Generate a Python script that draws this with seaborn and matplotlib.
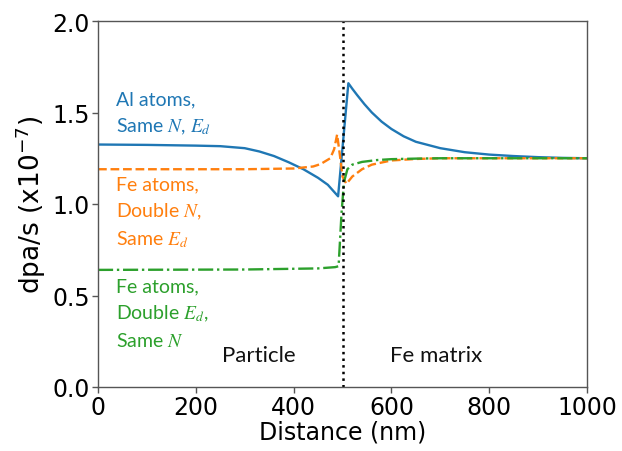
import matplotlib
matplotlib.use("Agg")
import matplotlib.pyplot as plt
import seaborn as sns

# ---- data ----
al_x = [0, 100, 200, 250, 300, 330, 360, 390, 420, 450, 470, 491,
        512, 520, 530, 545, 560, 580, 600, 625, 650, 700, 750, 800, 850, 900, 950, 1000]
al_y = [1.325, 1.323, 1.319, 1.316, 1.305, 1.287, 1.262, 1.228, 1.19, 1.143, 1.105, 1.042,
        1.66, 1.63, 1.595, 1.545, 1.50, 1.45, 1.41, 1.37, 1.34, 1.305, 1.283, 1.27,
        1.262, 1.256, 1.252, 1.25]

fe_n_x = [0, 300, 400, 440, 455, 475, 483, 489, 495, 500, 508, 520, 540, 560, 600, 650, 700, 1000]
fe_n_y = [1.19, 1.19, 1.194, 1.205, 1.218, 1.25, 1.30, 1.38, 1.26, 1.15, 1.11, 1.15, 1.19,
          1.215, 1.238, 1.246, 1.25, 1.25]

fe_e_x = [0, 300, 450, 485, 492, 498, 503, 510, 520, 540, 570, 600, 650, 700, 1000]
fe_e_y = [0.64, 0.642, 0.648, 0.655, 0.66, 0.95, 1.12, 1.19, 1.215, 1.23, 1.24, 1.245,
          1.248, 1.25, 1.25]

interface_x = 500
x_ticks = [0, 200, 400, 600, 800, 1000]
y_ticks = [0.0, 0.5, 1.0, 1.5, 2.0]

al_label = ["Al atoms,", "Same $N$, $E_d$"]
fe_n_label = ["Fe atoms,", "Double $N$,", "Same $E_d$"]
fe_e_label = ["Fe atoms,", "Double $E_d$,", "Same $N$"]
al_base = [1.546, 1.399]
fe_n_base = [1.082, 0.934, 0.778]
fe_e_base = [0.525, 0.377, 0.224]

sns.set_style("ticks")
plt.rcParams["font.family"] = ["DejaVu Sans"]

fig = plt.figure(figsize=(6.22, 4.52), dpi=100)
ax = fig.add_axes([98 / 622, 1 - 388 / 452, 489 / 622, 366 / 452])

blue, orange, green = "#1f77b4", "#ff7f0e", "#2ca02c"

sns.lineplot(x=al_x, y=al_y, ax=ax, color=blue, lw=1.7, estimator=None, sort=False)
sns.lineplot(x=fe_n_x, y=fe_n_y, ax=ax, color=orange, lw=1.7, estimator=None, sort=False,
             linestyle="--")
sns.lineplot(x=fe_e_x, y=fe_e_y, ax=ax, color=green, lw=1.7, estimator=None, sort=False,
             linestyle="-.")
ax.axvline(interface_x, color="black", lw=1.8, linestyle=":")

ax.set_xlim(0, 1000)
ax.set_ylim(0, 2.0)
ax.set_xticks(x_ticks)
ax.set_yticks(y_ticks)
ax.set_yticklabels([f"{v:.1f}" for v in y_ticks])
ax.tick_params(labelsize=17, length=4, width=1, color="#555555", labelcolor="black", pad=2)
for s in ax.spines.values():
    s.set_color("#555555")
    s.set_linewidth(1.0)

ax.set_xlabel("Distance (nm)", fontsize=17, labelpad=0, color="black")
ax.set_ylabel("dpa/s (x10$^{-7}$)", fontsize=19, labelpad=3, color="black")

afont = dict(fontsize=14, family=["Lato", "DejaVu Sans"], va="baseline", ha="left",
             math_fontfamily="stix")
for lines, bases, col in [(al_label, al_base, blue),
                          (fe_n_label, fe_n_base, orange),
                          (fe_e_label, fe_e_base, green)]:
    for txt, b in zip(lines, bases):
        ax.text(37, b, txt, color=col, **afont)

ax.text(328, 0.142, "Particle", fontsize=16, family=["Lato", "DejaVu Sans"],
        ha="center", va="baseline", color="#111111")
ax.text(692, 0.142, "Fe matrix", fontsize=16, family=["Lato", "DejaVu Sans"],
        ha="center", va="baseline", color="#111111")

fig.savefig("out.png", dpi=100)
